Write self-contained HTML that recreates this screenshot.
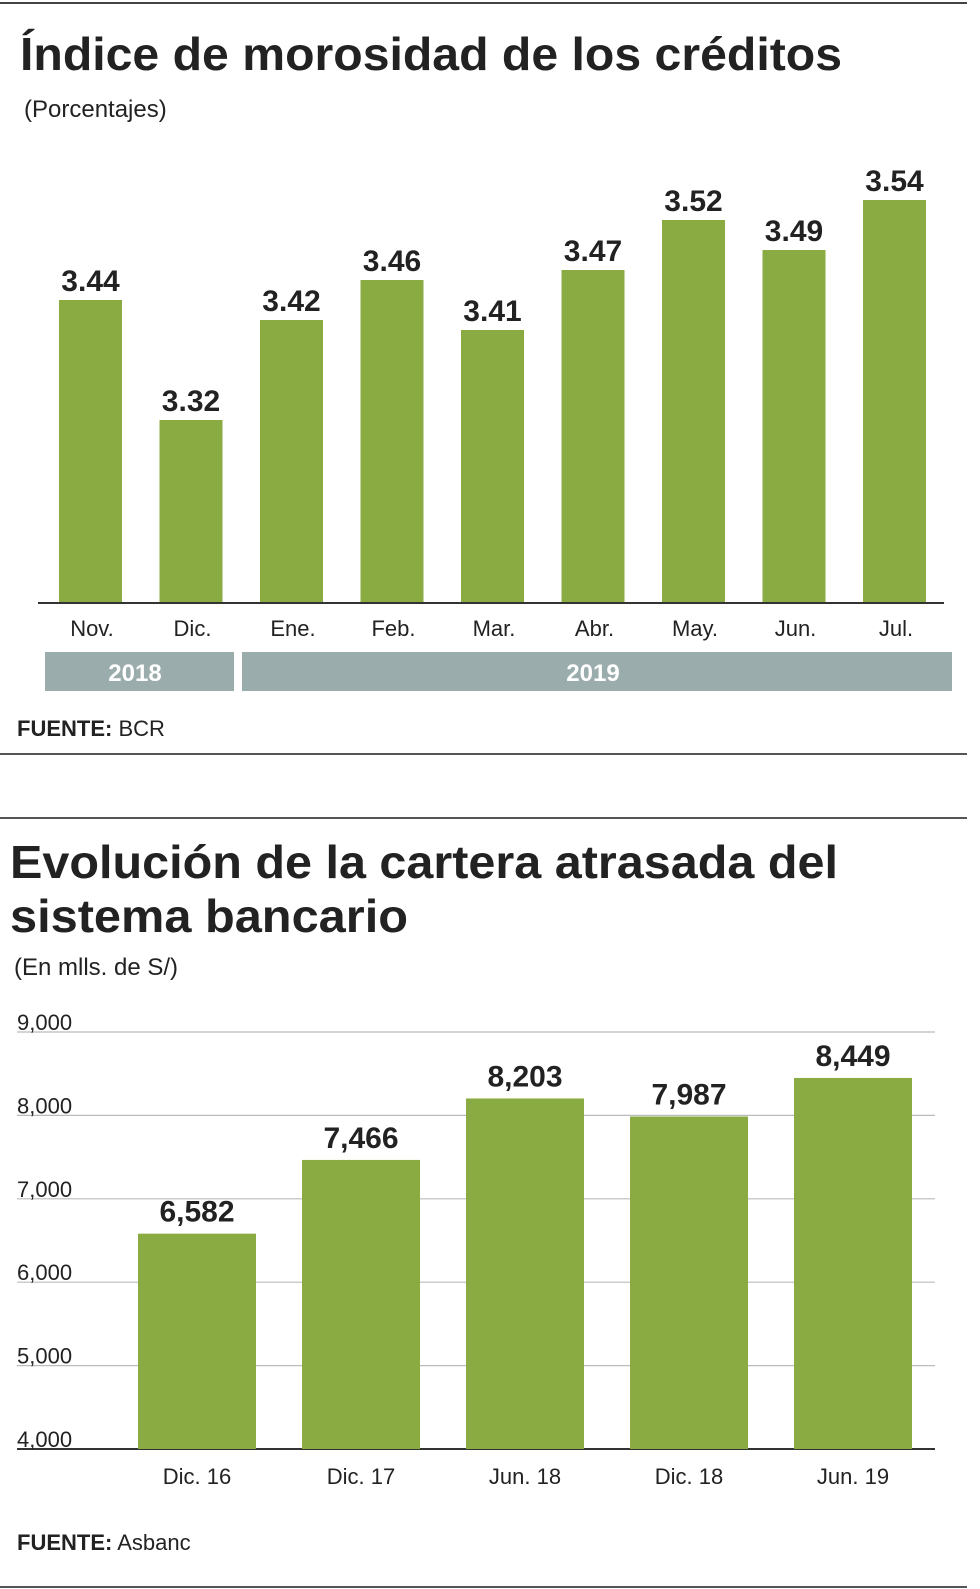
<!DOCTYPE html>
<html><head><meta charset="utf-8"><style>
body{margin:0;background:#fff;}
svg{display:block;font-family:"Liberation Sans",sans-serif;}
</style></head><body>
<svg width="980" height="1589" viewBox="0 0 980 1589">
<line x1="0" y1="3" x2="967" y2="3" stroke="#444" stroke-width="2"/>
<text x="20" y="70" font-size="46" font-weight="bold" fill="#222" textLength="822" lengthAdjust="spacingAndGlyphs">Índice de morosidad de los créditos</text>
<text x="24" y="117" font-size="24" fill="#222">(Porcentajes)</text>
<g id="c1"></g>
<line x1="38" y1="603" x2="944" y2="603" stroke="#333" stroke-width="2"/>
<rect x="45" y="652" width="189" height="39" fill="#9aacac"/>
<text x="135" y="681" font-size="24" font-weight="bold" fill="#fff" text-anchor="middle">2018</text>
<rect x="242" y="652" width="710" height="39" fill="#9aacac"/>
<text x="593" y="681" font-size="24" font-weight="bold" fill="#fff" text-anchor="middle">2019</text>
<text x="17" y="736" font-size="22" fill="#222"><tspan font-weight="bold">FUENTE:</tspan> BCR</text>
<line x1="0" y1="754" x2="967" y2="754" stroke="#555" stroke-width="2"/>
<line x1="0" y1="818" x2="967" y2="818" stroke="#555" stroke-width="2"/>
<text x="10" y="878" font-size="46" font-weight="bold" fill="#222" textLength="828" lengthAdjust="spacingAndGlyphs">Evolución de la cartera atrasada del</text>
<text x="10" y="932" font-size="46" font-weight="bold" fill="#222" textLength="398" lengthAdjust="spacingAndGlyphs">sistema bancario</text>
<text x="14" y="975" font-size="24" fill="#222">(En mlls. de S/)</text>
<g id="c2"></g>
<text x="17" y="1550" font-size="22" fill="#222"><tspan font-weight="bold">FUENTE:</tspan> Asbanc</text>
<line x1="0" y1="1587" x2="967" y2="1587" stroke="#555" stroke-width="2"/>
</svg>
<script>
const months = ["Nov.","Dic.","Ene.","Feb.","Mar.","Abr.","May.","Jun.","Jul."];
const rates = [3.44,3.32,3.42,3.46,3.41,3.47,3.52,3.49,3.54];
const periods = ["Dic. 16","Dic. 17","Jun. 18","Dic. 18","Jun. 19"];
const arrears = [6582,7466,8203,7987,8449];
const yTicks = [4000,5000,6000,7000,8000,9000];

const NS="http://www.w3.org/2000/svg";
function mk(tag,attrs,parent){const e=document.createElementNS(NS,tag);for(const k in attrs)e.setAttribute(k,attrs[k]);parent.appendChild(e);return e;}
const GREEN="#8aab41";

// chart 1
const c1=document.getElementById('c1');
const y1=v=>603-(v-3.137)*1000;
const x1=i=>59+i*100.5;
rates.forEach((v,i)=>{
  const r=mk('rect',{x:x1(i),y:y1(v),width:63,height:603-y1(v),fill:GREEN},c1);
  
  
  const t=mk('text',{x:x1(i)+31.5,y:y1(v)-9,'font-size':30,'font-weight':'bold',fill:'#222','text-anchor':'middle'},c1);
  t.textContent=v.toFixed(2);
  
  
  const m=mk('text',{x:x1(i)+33,y:636,'font-size':22,fill:'#222','text-anchor':'middle'},c1);
  m.textContent=months[i];
  
  
});

// chart 2
const c2=document.getElementById('c2');
const y2=v=>1449-(v-4000)*0.0834;
const x2=i=>138+i*164;
yTicks.forEach(v=>{
  const l=mk('line',{x1:17,x2:935,y1:y2(v),y2:y2(v),stroke:v===4000?'#333':'#bbb','stroke-width':v===4000?2:1.2},c2);
  
  
  const t=mk('text',{x:17,y:y2(v)-2,'font-size':22,fill:'#222'},c2);
  t.textContent=v.toLocaleString('en-US');
  
  
});
arrears.forEach((v,i)=>{
  const r=mk('rect',{x:x2(i),y:y2(v),width:118,height:1449-y2(v),fill:GREEN},c2);
  
  
  const t=mk('text',{x:x2(i)+59,y:y2(v)-12,'font-size':30,'font-weight':'bold',fill:'#222','text-anchor':'middle'},c2);
  t.textContent=v.toLocaleString('en-US');
  
  
  const m=mk('text',{x:x2(i)+59,y:1484,'font-size':22,fill:'#222','text-anchor':'middle'},c2);
  m.textContent=periods[i];
  
  
});
</script>
</body></html>
